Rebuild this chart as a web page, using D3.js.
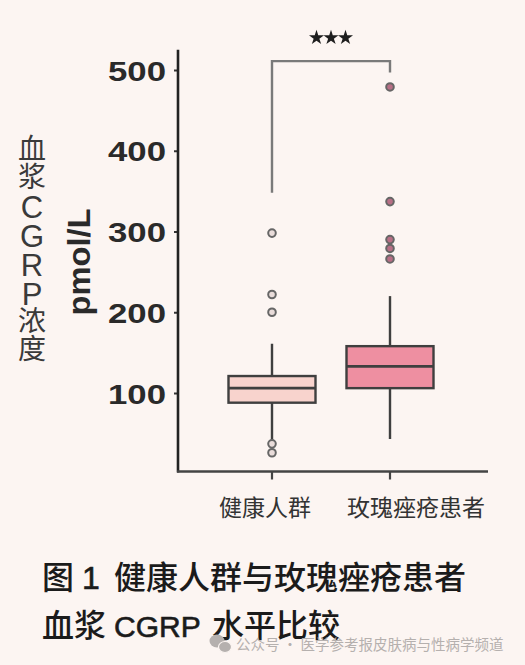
<!DOCTYPE html>
<html><head><meta charset="utf-8">
<script src="https://cdn.jsdelivr.net/npm/d3@7"></script>
<style>
html,body{margin:0;padding:0;background:#fcf5f2;}
svg{display:block;}
</style></head>
<body>
<svg id="chart" width="525" height="665"></svg>
<script>
// ---- data ----
const categories = ["健康人群", "玫瑰痤疮患者"];
const q1 = [88, 106];
const medians = [106, 133];
const q3 = [121, 158];
const whiskerLow = [42, 43];
const whiskerHigh = [161, 220];
const outliersHealthy = [298, 222, 200, 37, 26];
const outliersRosacea = [479, 337, 290, 279, 266];
const yTicks = [100, 200, 300, 400, 500];
const boxFills = ["#f8d3cd", "#ee8fa1"];
const outlierFills = ["#e9dcda", "#b86f86"];
const sigLabel = "***";
const bracketLevels = [348, 511, 497]; // left foot, top, right foot (value units)
const yTitleParts = ["血浆", "CGRP", "浓度"];

const svg = d3.select("#chart");
const W = 525, H = 665;
svg.append("rect").attr("width", W).attr("height", H).attr("fill", "#fcf5f2");

const y = d3.scaleLinear().domain([0, 500]).range([473.75, 70]);
const x = d3.scalePoint().domain(categories).range([272, 390]);
const axisX = 178;
const baseY = 471.5;
const boxW = 87;
const ink = "#3f3f3f";

// y axis
const yAxis = d3.axisLeft(y).tickValues(yTicks).tickSize(4).tickFormat(d3.format("d"));
const gy = svg.append("g").attr("transform", `translate(${axisX},0)`).call(yAxis);
gy.select(".domain").remove();
gy.selectAll(".tick line").attr("stroke", "#333").attr("stroke-width", 2);
gy.selectAll(".tick text")
  .attr("x", -12).attr("dy", "0.36em")
  .attr("font-family", "Liberation Sans, Arial, sans-serif")
  .attr("font-weight", "bold").attr("font-size", 28)
  .attr("fill", "#2a2a2a")
  .attr("textLength", 58).attr("lengthAdjust", "spacingAndGlyphs");
svg.append("line").attr("x1", axisX).attr("x2", axisX)
  .attr("y1", y(525)).attr("y2", baseY + 1)
  .attr("stroke", "#222").attr("stroke-width", 2.6);

// x axis
svg.append("line").attr("x1", axisX - 1).attr("x2", 488)
  .attr("y1", baseY).attr("y2", baseY)
  .attr("stroke", "#444").attr("stroke-width", 2.6);
svg.selectAll(".xtick").data(categories).enter().append("line")
  .attr("x1", d => x(d)).attr("x2", d => x(d))
  .attr("y1", baseY).attr("y2", baseY + 8)
  .attr("stroke", "#444").attr("stroke-width", 2.2);
const labelOffsets = [-7, 26];
svg.selectAll(".xlab").data(categories).enter().append("text")
  .attr("x", (d, i) => x(d) + labelOffsets[i]).attr("y", 516)
  .attr("text-anchor", "middle")
  .attr("font-family", "Noto Sans CJK SC, sans-serif")
  .attr("font-size", 23).attr("fill", "#333")
  .text(d => d);

// boxes
const groups = categories.map((c, i) => ({
  c, i, q1: q1[i], med: medians[i], q3: q3[i], lo: whiskerLow[i], hi: whiskerHigh[i],
  out: i === 0 ? outliersHealthy : outliersRosacea
}));
const g = svg.selectAll(".box").data(groups).enter().append("g");
g.append("line").attr("x1", d => x(d.c)).attr("x2", d => x(d.c))
  .attr("y1", d => y(d.hi)).attr("y2", d => y(d.q3))
  .attr("stroke", ink).attr("stroke-width", 2.4);
g.append("line").attr("x1", d => x(d.c)).attr("x2", d => x(d.c))
  .attr("y1", d => y(d.q1)).attr("y2", d => y(d.lo))
  .attr("stroke", ink).attr("stroke-width", 2.4);
g.append("rect")
  .attr("x", d => x(d.c) - boxW / 2).attr("width", boxW)
  .attr("y", d => y(d.q3)).attr("height", d => y(d.q1) - y(d.q3))
  .attr("fill", d => boxFills[d.i]).attr("stroke", ink).attr("stroke-width", 2.4);
g.append("line")
  .attr("x1", d => x(d.c) - boxW / 2).attr("x2", d => x(d.c) + boxW / 2)
  .attr("y1", d => y(d.med)).attr("y2", d => y(d.med))
  .attr("stroke", ink).attr("stroke-width", 2.6);
g.selectAll("circle").data(d => d.out.map(v => ({ v, c: d.c, i: d.i }))).enter()
  .append("circle")
  .attr("cx", d => x(d.c)).attr("cy", d => y(d.v)).attr("r", 3.8)
  .attr("fill", d => outlierFills[d.i]).attr("stroke", "#666").attr("stroke-width", 2);

// significance bracket
const xl = x(categories[0]), xr = x(categories[1]);
svg.append("path")
  .attr("d", `M${xl},${y(bracketLevels[0])}V${y(bracketLevels[1])}H${xr}V${y(bracketLevels[2])}`)
  .attr("fill", "none").attr("stroke", "#7a7a7a").attr("stroke-width", 2.4);
const starSym = d3.symbol().type(d3.symbolStar).size(70);
sigLabel.split("").forEach((s, k) => {
  svg.append("path").attr("d", starSym())
    .attr("transform", `translate(${(xl + xr) / 2 + (k - 1) * 14.5},${y(540)})`)
    .attr("fill", "#1e1e1e");
});

// axis titles
svg.append("text")
  .attr("transform", `translate(90,262) rotate(-90)`)
  .attr("text-anchor", "middle")
  .attr("font-family", "Liberation Sans, Arial, sans-serif")
  .attr("font-weight", "bold").attr("font-size", 32)
  .attr("fill", "#2a2a2a")
  .attr("textLength", 107).attr("lengthAdjust", "spacingAndGlyphs")
  .text("pmol/L");

// vertical Chinese title, one text element in vertical writing mode
const vt = svg.append("text")
  .attr("x", 32).attr("y", 134)
  .style("writing-mode", "vertical-rl")
  .style("text-orientation", "upright")
  .attr("font-family", "Noto Sans CJK SC, sans-serif")
  .attr("font-size", 28).attr("fill", "#3a3a3a");
yTitleParts.forEach((p, i) => {
  const t = vt.append("tspan").text(p);
  if (i === 1) t.attr("font-size", 31).attr("letter-spacing", -6)
    .attr("font-family", "Liberation Sans, Arial, sans-serif");
});

// caption
const cap = svg.append("g").attr("font-family", "Noto Sans CJK SC, sans-serif")
  .attr("font-weight", 500).attr("fill", "#1b1b1b").attr("font-size", 32);
cap.append("text").attr("x", 42).attr("y", 589).text("图");
cap.append("text").attr("x", 82).attr("y", 589)
  .attr("font-family", "Liberation Sans, Arial, sans-serif").attr("font-weight", 400)
  .attr("stroke", "#1b1b1b").attr("stroke-width", 0.6).text("1");
cap.append("text").attr("x", 114).attr("y", 589).text("健康人群与玫瑰痤疮患者");
const line2 = cap.append("text").attr("y", 637);
line2.append("tspan").attr("x", 42).text("血浆 ");
line2.append("tspan").attr("x", 114)
  .attr("font-family", "Liberation Sans, Arial, sans-serif").attr("font-weight", 400)
  .attr("stroke", "#1b1b1b").attr("stroke-width", 0.6)
  .attr("font-size", 30).text("CGRP ");
line2.append("tspan").attr("x", 212).text("水平比较");

// watermark
const wm = svg.append("g").attr("fill", "#b5b0ae");
wm.append("ellipse").attr("cx", 217).attr("cy", 641).attr("rx", 7.5).attr("ry", 6.5);
wm.append("ellipse").attr("cx", 225).attr("cy", 647).attr("rx", 6.5).attr("ry", 5.5).attr("stroke", "#fcf5f2").attr("stroke-width", 1.2);
wm.append("text").attr("x", 236).attr("y", 650)
  .attr("font-family", "Noto Sans CJK SC, sans-serif").attr("font-size", 14.5)
  .text("公众号 · 医学参考报皮肤病与性病学频道");
</script>
</body></html>
